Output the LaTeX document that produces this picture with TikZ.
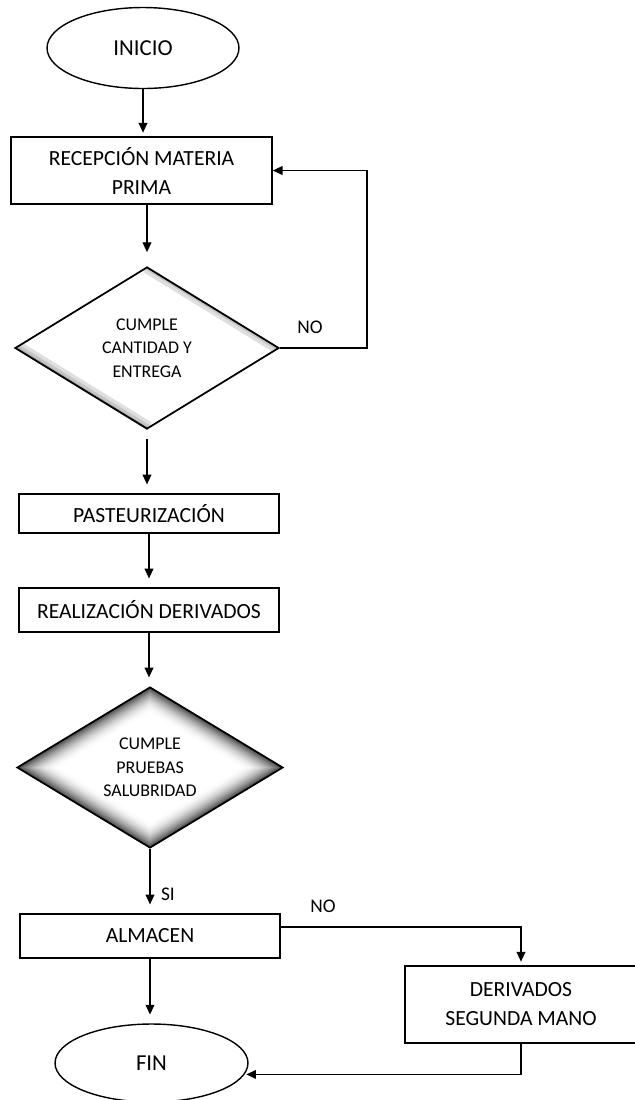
\documentclass[tikz,border=0pt]{standalone}
\usepackage{fontspec}
\setmainfont{Carlito}
\usetikzlibrary{shapes.geometric,arrows.meta,backgrounds}

\tikzset{
  caja/.style={draw, line width=1pt, rectangle, inner sep=2pt, align=center,
    font=\fontsize{12.3}{16.5}\selectfont},
  terminal/.style={draw, line width=0.8pt, ellipse, inner sep=0pt,
    font=\fontsize{13}{15}\selectfont},
  decision/.style={draw, line width=1pt, diamond, inner sep=0pt, align=center,
    font=\fontsize{10.2}{13.3}\selectfont},
  flecha/.style={line width=0.6pt, -{Triangle[length=5.5pt,width=5pt]}, shorten >=5pt},
  etiqueta/.style={font=\fontsize{11}{13}\selectfont}
}

\begin{document}
\begin{tikzpicture}[x=0.02cm, y=-0.02cm]
        \useasboundingbox (0,0) rectangle (635,1100);

        % Coordinates
        \coordinate (I) at (143,48);
        \coordinate (R) at (141.5,170.5);
        \coordinate (D1) at (147,348);
        \coordinate (P) at (149,513.5);
        \coordinate (RD) at (149,610);
        \coordinate (D2) at (150,767.5);
        \coordinate (A) at (150,936);
        \coordinate (DS) at (521,1004.5);
        \coordinate (F) at (151.5,1063);
        \coordinate (lazo) at (367,0);
        \coordinate (salida) at (280,927);

        % Nodes
        \node[terminal, minimum width=3.84cm, minimum height=1.62cm] (inicio) at (I) {INICIO};
        \node[caja, minimum width=5.22cm, minimum height=1.34cm] (recepcion) at (R) {RECEPCIÓN MATERIA\\PRIMA};
        \node[decision, minimum width=5.28cm, minimum height=3.24cm] (cumple1) at (D1) {CUMPLE\\CANTIDAD Y\\ENTREGA};
        \node[caja, minimum width=5.2cm, minimum height=0.78cm] (pasteur) at (P) {PASTEURIZACIÓN};
        \node[caja, minimum width=5.2cm, minimum height=0.88cm] (derivados) at (RD) {REALIZACIÓN DERIVADOS};
        \node[decision, minimum width=5.32cm, minimum height=3.22cm] (cumple2) at (D2) {CUMPLE\\PRUEBAS\\SALUBRIDAD};
        \node[caja, minimum width=5.2cm, minimum height=0.88cm] (almacen) at (A) {ALMACEN};
        \node[caja, minimum width=4.64cm, minimum height=1.54cm] (segunda) at (DS) {DERIVADOS\\SEGUNDA MANO};
        \node[terminal, minimum width=3.86cm, minimum height=1.56cm] (fin) at (F) {FIN};

        % Shading of the decisions
        \begin{scope}[on background layer]
          \begin{scope}
            \clip (cumple1.north) -- (cumple1.east) -- (cumple1.south) -- (cumple1.west) -- cycle;
            \draw[gray!25, line width=10pt] (cumple1.west) -- (cumple1.south);
            \draw[gray!45, line width=6pt] (cumple1.west) -- (cumple1.south);
            \draw[gray!65, line width=3pt] (cumple1.west) -- (cumple1.south);
            \draw[gray!25, line width=8pt] (cumple1.north) -- (cumple1.east);
            \draw[gray!45, line width=4pt] (cumple1.north) -- (cumple1.east);
          \end{scope}
          \foreach \k in {0,...,20} {
            \pgfmathsetmacro{\s}{1-0.016*\k}
            \pgfmathsetmacro{\c}{72*(1-\k/20)^2}
            \fill[black!\c, shift={(cumple2.center)}, scale=\s]
              (-133,0) -- (0,-80.5) -- (133,0) -- (0,80.5) -- cycle;
          }
        \end{scope}

        % Labels
        \node[etiqueta] (no1) at (310,327) {NO};
        \node[etiqueta] (si) at (168,894) {SI};
        \node[etiqueta] (no2) at (323,906) {NO};

        % Arrows
        \draw[flecha, shorten >=2pt] (inicio.south) -- (inicio.south |- recepcion.north);
        \draw[flecha, shorten >=8pt] (recepcion.south -| cumple1.north) -- (cumple1.north);
        \draw[flecha, shorten >=0pt] (cumple1.east) -- (cumple1.east -| lazo) |- (recepcion.east);
        \draw[flecha, shorten <=5pt] (cumple1.south) -- (cumple1.south |- pasteur.north);
        \draw[flecha] (pasteur.south) -- (pasteur.north |- derivados.north);
        \draw[flecha] (derivados.south) -- (derivados.south |- cumple2.north);
        \draw[flecha] (cumple2.south) -- (cumple2.south |- almacen.north);
        \draw[flecha] (almacen.south) -- (almacen.south |- fin.north);
        \draw[flecha, shorten >=2pt] (salida) -| (segunda.north);
        \draw[flecha, shorten >=1pt] (segunda.south) |- (fin.-7);
    \end{tikzpicture}
\end{document}
